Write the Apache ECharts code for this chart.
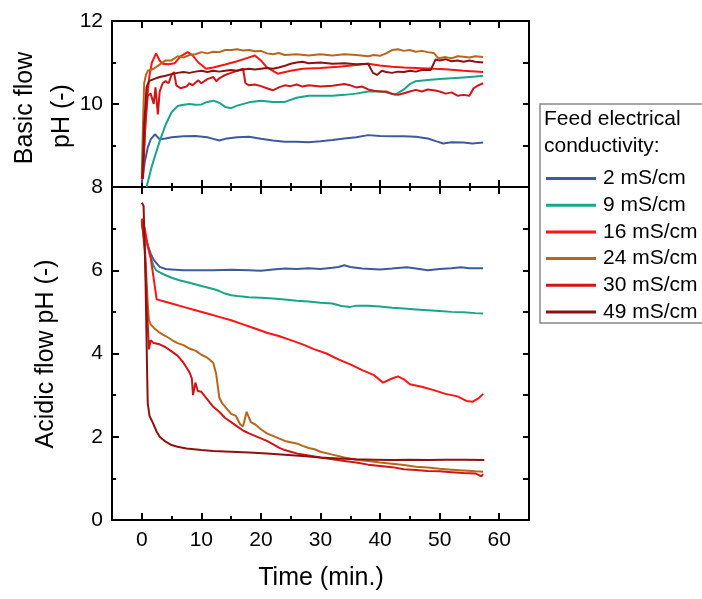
<!DOCTYPE html>
<html><head><meta charset="utf-8">
<script src="https://cdn.jsdelivr.net/npm/echarts/dist/echarts.min.js"></script>
<style>html,body{margin:0;padding:0;background:#fff}#c{width:702px;height:599px}</style>
</head><body><div id="c"></div>
<script>
// ---------- data ----------
const seriesNames = ['2 mS/cm','9 mS/cm','16 mS/cm','24 mS/cm','30 mS/cm','49 mS/cm'];
const seriesColors = ['#3f5a9a','#17a58b','#ff1414','#b8661c','#d01515','#8c1212'];
const xMajorTicks = [0,10,20,30,40,50,60];
const xMinorTicks = [5,15,25,35,45,55];

// Basic flow pH  [time (min), pH]
const basic2 = [[0,8.1],[0.5,8.6],[1,8.95],[1.5,9.15],[2.2,9.27],[3,9.15],[4,9.17],[5,9.2],[7,9.22],[9,9.23],[11,9.2],[12,9.16],[13,9.12],[14,9.16],[16,9.2],[18,9.21],[20,9.16],[22,9.12],[24,9.09],[26,9.09],[28,9.08],[30,9.1],[32,9.13],[34,9.17],[36,9.2],[38,9.25],[40,9.23],[42,9.22],[44,9.22],[46,9.21],[48,9.17],[49.5,9.1],[50.6,9.05],[52,9.08],[54,9.07],[55.5,9.05],[57.3,9.07]];
const basic9 = [[0.8,8.0],[1.5,8.4],[2,8.65],[3,9.1],[4,9.5],[5,9.8],[6,9.95],[7,9.98],[8,10.0],[9,9.98],[10,9.99],[11,10.05],[12,10.08],[13,10.03],[14,9.93],[15,9.9],[16,9.96],[18,10.04],[20,10.08],[22,10.05],[24,10.05],[26,10.15],[28,10.2],[30,10.2],[32,10.2],[34,10.22],[36,10.25],[38,10.3],[40,10.3],[41,10.28],[42.5,10.22],[44,10.35],[45,10.48],[46,10.55],[48,10.58],[50,10.6],[52,10.62],[54,10.64],[56,10.66],[57.3,10.68]];
const basic16 = [[0,8.2],[0.4,9.0],[0.8,10.0],[1.3,10.7],[1.7,11.0],[2.4,11.22],[3,11.05],[3.5,10.97],[4.5,10.96],[5.5,10.98],[6.5,11.15],[7.7,11.25],[8.5,11.18],[9.5,11.0],[10.8,10.85],[12,10.88],[14,10.95],[16,11.03],[17.5,11.1],[19,11.17],[20,11.05],[21,10.88],[22.8,10.73],[25,10.8],[27,10.85],[30,10.87],[33,10.9],[36,10.94],[38,10.97],[40,10.93],[42,10.9],[44,10.88],[46,10.87],[49,10.85],[51,10.84],[54,10.8],[57.3,10.77]];
const basic24 = [[0,8.3],[0.2,9.5],[0.4,10.5],[0.7,10.7],[1,10.8],[2,10.85],[3,10.95],[4,11.05],[5,11.05],[6,11.15],[7,11.12],[8,11.18],[9,11.2],[10,11.25],[11,11.22],[12,11.26],[13,11.25],[14,11.3],[15,11.3],[16,11.32],[17,11.29],[18,11.3],[19,11.27],[20,11.28],[21,11.22],[22,11.2],[23,11.23],[24,11.18],[26,11.2],[28,11.17],[30,11.2],[32,11.17],[34,11.2],[36,11.18],[38,11.15],[39,11.18],[40,11.16],[41,11.22],[42,11.3],[43,11.32],[44,11.28],[45,11.3],[46,11.26],[47,11.28],[48,11.25],[49,11.23],[49.8,11.1],[51,11.13],[52,11.1],[53,11.15],[54,11.14],[55,11.12],[56,11.15],[57.3,11.13]];
const basic30 = [[0.2,8.2],[0.6,9.5],[1,10.2],[1.5,10.25],[2,10.0],[2.3,10.4],[2.7,9.75],[3,10.3],[3.5,10.5],[4,10.55],[4.5,10.5],[5,10.7],[5.4,10.77],[5.8,10.45],[6.5,10.38],[7.5,10.42],[8,10.5],[8.5,10.45],[9.5,10.57],[10,10.5],[11,10.6],[12,10.65],[12.5,10.55],[13,10.62],[14,10.7],[15,10.75],[16,10.8],[17,10.85],[17.4,10.5],[18,10.45],[19,10.47],[20,10.43],[21,10.38],[22,10.33],[23,10.4],[24,10.45],[25,10.43],[26,10.47],[27,10.42],[28,10.45],[30,10.42],[32,10.44],[34,10.48],[35,10.45],[36,10.4],[37,10.42],[38,10.35],[39,10.32],[40,10.3],[41,10.3],[42,10.25],[43,10.22],[44,10.26],[45,10.3],[46,10.34],[47,10.3],[48,10.35],[49,10.33],[50,10.3],[51,10.25],[52,10.28],[53,10.2],[54,10.22],[55,10.2],[55.7,10.38],[56.5,10.45],[57.3,10.5]];
const basic49 = [[0.1,8.2],[0.4,9.5],[0.8,10.4],[1.2,10.55],[2,10.6],[3,10.65],[4,10.68],[5,10.72],[6,10.75],[7,10.77],[8,10.75],[9,10.78],[10,10.8],[11,10.77],[12,10.8],[13,10.78],[14,10.8],[15,10.82],[16,10.8],[17,10.83],[18,10.85],[19,10.83],[20,10.85],[21,10.87],[22,10.85],[23,10.88],[24,10.92],[25,10.97],[26,11.0],[27,11.02],[28,10.98],[30,11.0],[32,10.97],[34,10.98],[36,10.96],[38,10.97],[38.8,10.75],[39.5,10.7],[40.3,10.8],[41,10.77],[42,10.75],[43,10.78],[44,10.77],[45,10.8],[46,10.78],[47,10.82],[48.5,10.82],[49.3,11.07],[50,11.05],[51,11.08],[52,11.03],[53,11.05],[54,11.02],[55,11.05],[56,11.02],[57.3,11.0]];

// Acidic flow pH  [time (min), pH]
const acid2 = [[0,7.1],[0.5,6.85],[1,6.6],[1.5,6.4],[2,6.25],[3,6.08],[4,6.03],[5,6.02],[7,6.0],[10,6.0],[12,6.0],[15,6.01],[18,6.0],[20,5.99],[22,6.02],[24,6.04],[26,6.03],[28,6.05],[30,6.03],[32,6.06],[33,6.08],[34,6.12],[35,6.08],[37,6.04],[40,6.02],[42,6.04],[44.5,6.07],[46,6.04],[48,6.0],[50,6.03],[52,6.05],[53.6,6.07],[55,6.05],[57.3,6.05]];
const acid9 = [[0,7.1],[0.5,6.85],[1,6.56],[1.5,6.3],[2,6.1],[2.4,6.0],[3,5.95],[4,5.88],[5,5.82],[6.3,5.76],[8,5.7],[10,5.62],[12,5.55],[13,5.5],[14,5.44],[15,5.4],[16,5.38],[18,5.35],[20,5.34],[22,5.32],[24,5.3],[26,5.27],[28,5.25],[30,5.22],[32,5.2],[33.5,5.14],[35,5.12],[36,5.15],[38,5.15],[40,5.13],[42,5.1],[44,5.08],[46,5.06],[48,5.04],[50,5.02],[52,5.0],[54,4.99],[56,4.97],[57.3,4.96]];
const acid16 = [[0,7.24],[0.5,7.0],[1,6.6],[1.5,6.3],[2,5.8],[2.5,5.3],[3.5,5.26],[5,5.2],[7,5.12],[9,5.04],[11,4.96],[13,4.88],[15,4.8],[17,4.7],[19,4.6],[21,4.5],[23,4.42],[25,4.32],[27,4.22],[29,4.1],[31,4.0],[33,3.86],[35,3.74],[37,3.6],[39,3.48],[40.5,3.3],[42,3.4],[43,3.45],[44,3.38],[45,3.26],[47,3.2],[49,3.12],[51,3.03],[53,2.97],[54.5,2.86],[55.5,2.84],[56.5,2.92],[57.3,3.03]];
const acid24 = [[0,7.2],[0.5,6.6],[1,5.2],[1.2,4.8],[1.5,4.7],[2,4.62],[3,4.5],[4,4.42],[5,4.33],[6,4.25],[7,4.2],[8,4.12],[9,4.07],[10,3.97],[11,3.9],[12,3.78],[12.5,3.5],[13,2.95],[13.5,2.8],[14,2.72],[15,2.55],[15.8,2.5],[16.5,2.3],[17,2.25],[17.6,2.6],[18.3,2.35],[19,2.3],[20,2.18],[21,2.08],[22,2.02],[23,1.96],[24,1.9],[25,1.87],[26,1.84],[27,1.78],[28,1.73],[29,1.7],[30,1.64],[32,1.57],[34,1.5],[36,1.45],[38,1.42],[40,1.38],[42,1.35],[44,1.32],[46,1.28],[48,1.26],[50,1.23],[52,1.21],[54,1.19],[56,1.17],[57.3,1.16]];
const acid30 = [[0,7.2],[0.5,6.5],[0.9,5.0],[1.2,4.1],[1.5,4.32],[2,4.25],[3,4.22],[4,4.15],[5,4.05],[6,3.95],[7,3.78],[8,3.55],[8.4,3.4],[8.6,3.0],[9,3.3],[9.4,3.1],[10,3.08],[11,2.9],[12,2.72],[13,2.6],[14,2.45],[15,2.35],[16,2.25],[17,2.15],[18,2.08],[19,2.02],[20,1.96],[21,1.9],[22,1.82],[23,1.74],[24,1.68],[25,1.64],[26,1.6],[28,1.55],[30,1.5],[32,1.46],[34,1.42],[36,1.38],[38,1.33],[40,1.3],[42,1.27],[44,1.22],[46,1.2],[48,1.18],[50,1.17],[52,1.15],[54,1.13],[56,1.12],[57,1.05],[57.3,1.1]];
const acid49 = [[0,7.62],[0.3,7.55],[0.6,6.0],[0.9,3.5],[1.0,2.8],[1.3,2.5],[1.9,2.32],[2.5,2.12],[3,2.0],[4,1.88],[5,1.8],[6,1.76],[7.5,1.72],[10,1.68],[12,1.66],[15,1.64],[18,1.62],[21,1.6],[24,1.57],[27,1.54],[30,1.5],[33,1.48],[36,1.46],[39,1.45],[42,1.44],[45,1.45],[48,1.44],[51,1.45],[54,1.45],[57.5,1.44]];

const basicData = [basic2, basic9, basic16, basic24, basic30, basic49];
const acidData = [acid2, acid9, acid16, acid24, acid30, acid49];

// ---------- chart ----------
const FONT = '"Liberation Sans", Arial, sans-serif';
const chart = echarts.init(document.getElementById('c'), null, {renderer: 'canvas'});

const line = {color: '#000', width: 2};
function xAx(grid, pos, ticks, len, labels, showLine) {
  return {
    type: 'value', gridIndex: grid, position: pos, min: -5, max: 65, interval: 5,
    axisLine: {show: showLine, onZero: false, lineStyle: line},
    axisTick: {show: true, inside: true, length: len, lineStyle: line, customValues: ticks},
    splitLine: {show: false},
    axisLabel: {show: labels, customValues: xMajorTicks, fontSize: 21, fontFamily: FONT, color: '#000', margin: 10}
  };
}
function yLeft(grid, min, max, hide) {
  return {
    type: 'value', gridIndex: grid, position: 'left', min: min, max: max, interval: 2,
    axisLine: {show: true, onZero: false, lineStyle: line},
    axisTick: {show: true, inside: true, length: 7, lineStyle: line},
    minorTick: {show: true, splitNumber: 2, length: 4, lineStyle: line},
    splitLine: {show: false},
    axisLabel: {show: true, fontSize: 21, fontFamily: FONT, color: '#000', margin: 9,
      formatter: v => (v === hide ? '' : String(v))}
  };
}
function yRight(grid, min, max) {
  return {
    type: 'value', gridIndex: grid, position: 'right', min: min, max: max, interval: 1,
    axisLine: {show: true, onZero: false, lineStyle: line},
    axisTick: {show: true, inside: true, length: 6, lineStyle: line},
    splitLine: {show: false},
    axisLabel: {show: false}
  };
}
function yHidden(grid) {
  return {type: 'value', gridIndex: grid, min: 0, max: 1, show: false};
}

const series = [];
seriesNames.forEach((n, i) => {
  series.push({name: n, type: 'line', xAxisIndex: 0, yAxisIndex: 0, data: basicData[i],
    symbol: 'none', showSymbol: false, clip: true, color: seriesColors[i],
    lineStyle: {width: 2, color: seriesColors[i]}});
});
seriesNames.forEach((n, i) => {
  series.push({name: n, type: 'line', xAxisIndex: 2, yAxisIndex: 2, data: acidData[i],
    symbol: 'none', showSymbol: false, clip: true, color: seriesColors[i],
    lineStyle: {width: 2, color: seriesColors[i]}});
});

const gTop = {left: 112, top: 21, width: 417, height: 166};
const gBot = {left: 112, top: 187, width: 417, height: 333};

chart.setOption({
  animation: false,
  backgroundColor: '#fff',
  grid: [gTop, gBot, Object.assign({}, gTop), Object.assign({}, gBot)],
  xAxis: [
    xAx(0, 'bottom', xMajorTicks, 7, false, true),
    xAx(0, 'top', xMajorTicks, 7, false, true),
    xAx(1, 'bottom', xMajorTicks, 7, true, true),
    xAx(1, 'top', xMajorTicks, 7, false, true),
    xAx(2, 'bottom', xMinorTicks, 4, false, false),
    xAx(2, 'top', xMinorTicks, 4, false, false),
    xAx(3, 'bottom', xMinorTicks, 4, false, false),
    xAx(3, 'top', xMinorTicks, 4, false, false)
  ],
  yAxis: [yLeft(0, 8, 12, null), yRight(0, 8, 12), yLeft(1, 0, 8, 8), yRight(1, 0, 8), yHidden(2), yHidden(3)],
  legend: {
    orient: 'vertical', left: 541, top: 163, itemWidth: 50, itemHeight: 3, itemGap: 5.7,
    icon: 'rect', data: seriesNames, selectedMode: false,
    textStyle: {fontSize: 21, fontFamily: FONT, color: '#000', lineHeight: 21, padding: [0, 0, 0, 2]}
  },
  graphic: [
    {type: 'rect', shape: {x: 540, y: 104, width: 170, height: 219}, style: {fill: 'none', stroke: '#888', lineWidth: 1.5}},
    {type: 'text', x: 544, y: 119, style: {text: 'Feed electrical', fontSize: 21, fontFamily: FONT, fill: '#000', verticalAlign: 'middle'}},
    {type: 'text', x: 544, y: 146, style: {text: 'conductivity:', fontSize: 21, fontFamily: FONT, fill: '#000', verticalAlign: 'middle'}},
    {type: 'text', x: 25, y: 108, rotation: Math.PI / 2, style: {text: 'Basic flow', fontSize: 25, fontFamily: FONT, fill: '#000', align: 'center', verticalAlign: 'middle'}},
    {type: 'text', x: 62, y: 116, rotation: Math.PI / 2, style: {text: 'pH (-)', fontSize: 25, fontFamily: FONT, fill: '#000', align: 'center', verticalAlign: 'middle'}},
    {type: 'text', x: 46, y: 354, rotation: Math.PI / 2, style: {text: 'Acidic flow pH (-)', fontSize: 25, fontFamily: FONT, fill: '#000', align: 'center', verticalAlign: 'middle'}},
    {type: 'text', x: 321, y: 578, style: {text: 'Time (min.)', fontSize: 25, fontFamily: FONT, fill: '#000', align: 'center', verticalAlign: 'middle'}}
  ],
  series: series
});
</script></body></html>
